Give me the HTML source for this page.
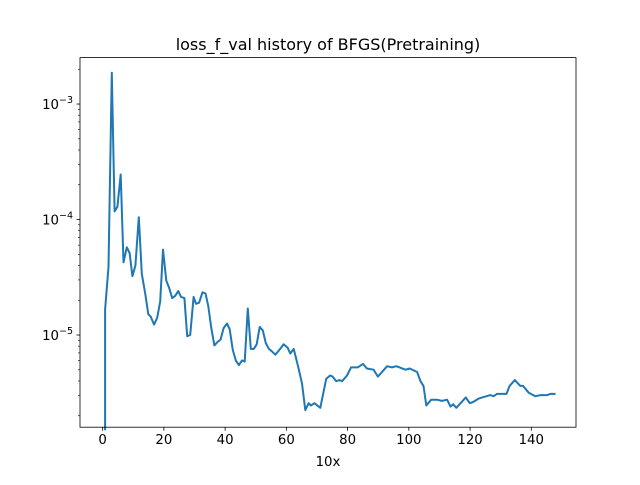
<!DOCTYPE html>
<html><head><meta charset="utf-8"><style>
body{margin:0;background:#fff}
svg text{font-family:"DejaVu Sans","Liberation Sans",sans-serif;fill:#000}
</style></head><body>
<svg id="chart" width="640" height="480" xmlns="http://www.w3.org/2000/svg">
<rect width="640" height="480" fill="#fff"/>
<g id="ticks"></g>
<path id="line" fill="none" stroke="#1f77b4" stroke-width="2" stroke-linejoin="round" stroke-linecap="square"/>
<rect x="80" y="57.6" width="496" height="369.6" fill="none" stroke="#000" stroke-width="0.8"/>
<text x="328" y="50" font-size="16" text-anchor="middle">loss_f_val history of BFGS(Pretraining)</text>
<text x="328" y="466" font-size="13.3" text-anchor="middle">10x</text>
</svg>
<script>
const xs=[0.8,0.8,1.9,3.0,3.9,4.8,5.9,6.8,7.9,8.8,9.7,10.7,11.8,12.8,13.9,14.9,15.7,16.8,17.8,18.8,19.7,20.8,21.7,22.7,23.7,24.7,25.6,26.7,27.6,28.6,29.7,30.5,31.5,32.6,33.6,34.5,35.5,36.5,37.5,38.5,39.5,40.6,41.5,42.5,43.5,44.5,45.5,46.4,47.4,48.4,49.4,50.3,51.3,52.3,53.3,54.3,55.2,56.4,57.7,59.1,60.4,61.3,62.4,64.0,65.1,66.2,67.3,68.0,69.2,71.1,73.0,74.3,75.1,76.3,77.3,78.2,79.8,81.1,83.3,85.0,86.3,88.5,89.9,92.9,94.5,95.9,98.9,100.3,102.7,103.8,104.8,105.7,107.3,109.2,110.8,112.5,113.6,114.5,115.5,118.6,119.9,121.0,122.8,126.6,127.7,128.8,131.0,131.9,132.9,134.6,136.4,137.3,139.2,141.3,143.0,145.2,146.2,147.6];
const logLoss=[-7,-4.78,-4.41,-2.73,-3.93,-3.89,-3.61,-4.37,-4.24,-4.29,-4.49,-4.40,-3.98,-4.47,-4.64,-4.82,-4.84,-4.91,-4.85,-4.71,-4.26,-4.53,-4.59,-4.68,-4.66,-4.62,-4.67,-4.68,-5.01,-5.00,-4.67,-4.73,-4.72,-4.63,-4.64,-4.75,-4.94,-5.09,-5.06,-5.04,-4.94,-4.90,-4.95,-5.13,-5.22,-5.26,-5.22,-5.23,-4.77,-5.12,-5.12,-5.08,-4.93,-4.96,-5.07,-5.12,-5.14,-5.17,-5.13,-5.08,-5.11,-5.16,-5.12,-5.29,-5.42,-5.65,-5.59,-5.61,-5.59,-5.63,-5.38,-5.35,-5.36,-5.40,-5.39,-5.40,-5.35,-5.28,-5.28,-5.25,-5.29,-5.30,-5.36,-5.27,-5.28,-5.27,-5.30,-5.29,-5.32,-5.40,-5.44,-5.61,-5.56,-5.56,-5.57,-5.56,-5.62,-5.60,-5.63,-5.54,-5.59,-5.58,-5.55,-5.52,-5.53,-5.51,-5.51,-5.51,-5.44,-5.39,-5.44,-5.44,-5.50,-5.53,-5.52,-5.52,-5.51,-5.51];
const xTicks=[0,20,40,60,80,100,120,140];
const yDecades=[-3,-4,-5];
const L=80,R=576,T=57.6,B=427.2,XMIN=-7.4,XMAX=154.6,YMAX=-2.598,YMIN=-5.798;
const sx=x=>L+(x-XMIN)/(XMAX-XMIN)*(R-L);
const sy=v=>{const e=Math.max(Math.log10(v),YMIN-1);return T+(YMAX-e)/(YMAX-YMIN)*(B-T);};
const NS="http://www.w3.org/2000/svg";
const g=document.getElementById('ticks');
function mk(t,a){const e=document.createElementNS(NS,t);for(const k in a)e.setAttribute(k,a[k]);g.appendChild(e);return e;}
xTicks.forEach(t=>{const x=sx(t);
const l=mk('line',{x1:x,x2:x,y1:B,y2:B+3.5,stroke:'#000','stroke-width':0.8});


const tx=mk('text',{x:x,y:B+17,'font-size':13.3,'text-anchor':'middle'});tx.textContent=t;

});
for(let d=-6;d<=-3;d++){for(let m=1;m<10;m++){const v=m*Math.pow(10,d);const lv=Math.log10(v);if(lv<YMIN||lv>YMAX)continue;const y=sy(v);
const l=mk('line',{x1:L-(m==1?3.5:2),x2:L,y1:y,y2:y,stroke:'#000','stroke-width':m==1?0.8:0.6});

}}
yDecades.forEach(d=>{const y=sy(Math.pow(10,d));
const tx=mk('text',{x:L-7,y:y+5,'font-size':13.3,'text-anchor':'end'});


tx.innerHTML='10<tspan dy="-6" font-size="9.5">'+(d<0?'\u2212':'')+Math.abs(d)+'</tspan>';});
document.getElementById('line').setAttribute('d',xs.map((x,i)=>(i?'L':'M')+sx(x).toFixed(1)+','+Math.min(sy(Math.pow(10,logLoss[i])),B+2).toFixed(1)).join(''));
</script>
</body></html>
